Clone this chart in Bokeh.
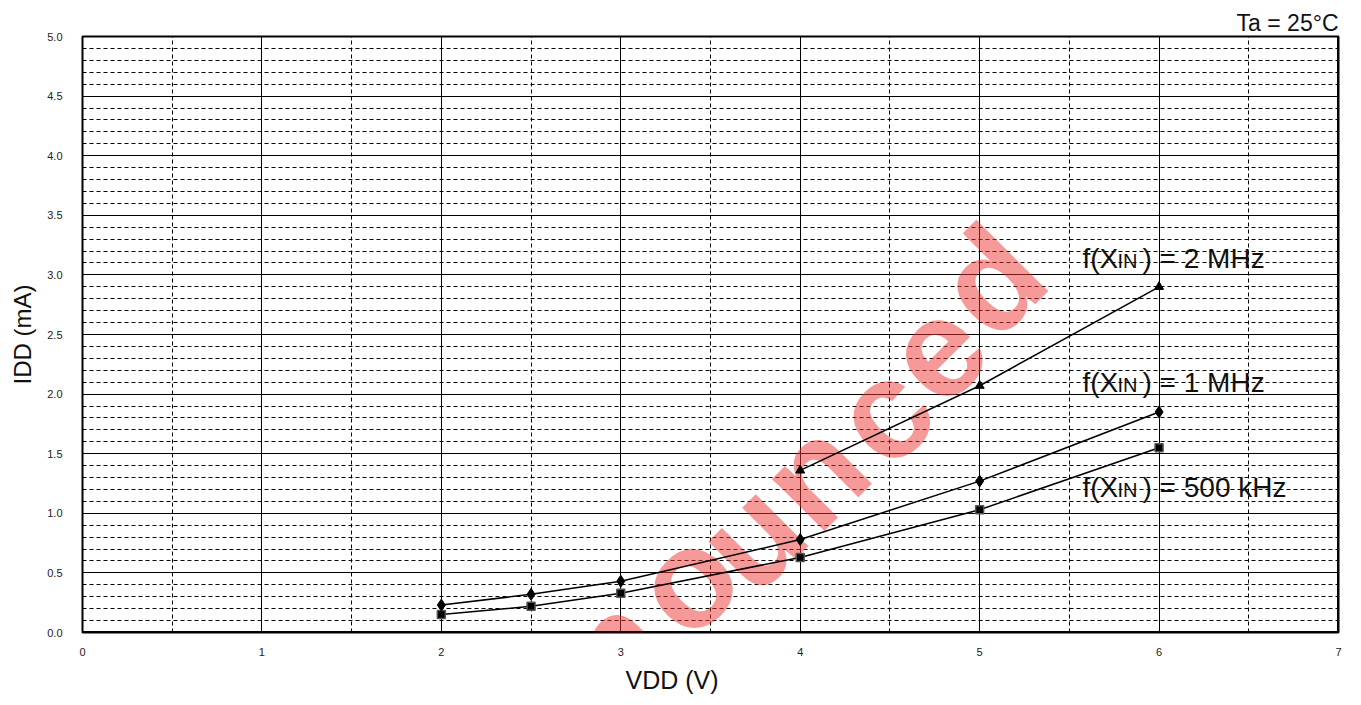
from bokeh.plotting import figure
from bokeh.models import Label, Range1d, SingleIntervalTicker, NumeralTickFormatter, Span, Title
from bokeh.embed import file_html
from bokeh.resources import INLINE
import math

# ---------------- data ----------------
vdd_2mhz = [4, 5, 6]
idd_2mhz = [1.36, 2.07, 2.90]

vdd_1mhz = [2, 2.5, 3, 4, 5, 6]
idd_1mhz = [0.23, 0.32, 0.43, 0.78, 1.27, 1.85]

vdd_500k = [2, 2.5, 3, 4, 5, 6]
idd_500k = [0.15, 0.22, 0.33, 0.63, 1.03, 1.55]

W, H = 1345, 700
FL, FT, FR, FB = 82, 36, 1338, 632   # frame edges in page pixels
FONT = "Liberation Sans"

p = figure(width=W, height=H, x_range=Range1d(0, 7), y_range=Range1d(0, 5),
           output_backend="svg", toolbar_location=None,
           min_border_left=FL, min_border_right=W - FR,
           min_border_top=FT, min_border_bottom=H - FB)
p.background_fill_color = "white"
p.border_fill_color = "white"
p.outline_line_color = "black"
p.outline_line_width = 2

# condition text as right-aligned title
p.title.text = "Ta = 25°C"
p.title.align = "right"
p.title.text_font = FONT
p.title.text_font_size = "23px"
p.title.text_font_style = "normal"
p.title.text_color = "#111111"
p.title.standoff = 2

# axes & grid
p.xaxis.ticker = SingleIntervalTicker(interval=1, num_minor_ticks=2)
p.yaxis.ticker = SingleIntervalTicker(interval=0.5, num_minor_ticks=5)
p.yaxis.formatter = NumeralTickFormatter(format="0.0")
for ax in (p.xaxis[0], p.yaxis[0]):
    ax.axis_line_color = None
    ax.major_tick_line_color = None
    ax.minor_tick_line_color = None
    ax.major_tick_out = 0
    ax.major_label_text_font = FONT
    ax.major_label_text_font_size = "11px"
    ax.major_label_text_color = "#222222"
    ax.axis_label_text_font = FONT
    ax.axis_label_text_font_size = "24px"
    ax.axis_label_text_font_style = "normal"
    ax.axis_label_text_color = "#111111"
p.yaxis.major_label_standoff = 16
p.xaxis.major_label_standoff = 11
p.yaxis.axis_label = "IDD (mA)"
p.yaxis.axis_label_standoff = 8

# x axis title placed as a title below so it can be offset like the reference
p.add_layout(Title(text="VDD (V)", align="left", offset=625 - FL, text_font=FONT,
                   text_font_size="25px", text_font_style="normal",
                   text_color="#111111", standoff=10), "below")

for g in (p.xgrid[0], p.ygrid[0]):
    g.grid_line_color = "black"
    g.grid_line_width = 1
    g.minor_grid_line_color = "black"
    g.minor_grid_line_width = 1
    g.minor_grid_line_dash = "4 3"

# heavier right and bottom frame edges
p.add_layout(Span(location=7, dimension="height", line_color="black", line_width=3))
p.add_layout(Span(location=0, dimension="width", line_color="black", line_width=3))


def lab(px, py, text, size, **kw):
    """Label positioned by page pixel coordinates (screen units are frame relative)."""
    args = dict(x=px - FL, y=FB - py, x_units="screen", y_units="screen",
                text=text, text_font=FONT, text_font_size=f"{size}px",
                text_color="#111111", text_baseline="middle", text_align="left")
    args.update(kw)
    p.add_layout(Label(**args))


# watermark (only the letters that fall inside the plotting area)
wm_letters = ["n", "o", "u", "n", "c", "e", "d"]
wm_pos = [(612, 648), (685, 580), (750, 535), (813, 473), (882, 412), (935, 350), (990, 280)]
for ch, (cx, cy) in zip(wm_letters, wm_pos):
    lab(cx, cy, ch, 140, text_color="#ee3333", text_alpha=0.5, text_font_style="bold",
        text_align="center", text_baseline="middle", angle=math.pi / 4, level="underlay")

# series
p.line(vdd_500k, idd_500k, line_color="black", line_width=1.5)
p.scatter(vdd_500k, idd_500k, marker="square", size=8, fill_color="black",
          line_color="#555555", line_width=1.5)
p.line(vdd_1mhz, idd_1mhz, line_color="black", line_width=1.5)
p.scatter(vdd_1mhz, idd_1mhz, marker="diamond", size=12, fill_color="black", line_color="black")
p.line(vdd_2mhz, idd_2mhz, line_color="black", line_width=1.5)
p.scatter(vdd_2mhz, idd_2mhz, marker="triangle", size=9, fill_color="black", line_color="black")

# series labels (baseline given; 'middle' anchors shifted up by ~0.36 em)
for base_y, rest in ((268, ") = 2 MHz"), (392, ") = 1 MHz"), (497, ") = 500 kHz")):
    lab(1082, base_y - 0.36 * 28, "f(X", 28)
    lab(1117, base_y - 0.36 * 20, "IN", 20)
    lab(1142, base_y - 0.36 * 28, rest, 28)

open("out.html", "w").write(file_html(p, INLINE))
